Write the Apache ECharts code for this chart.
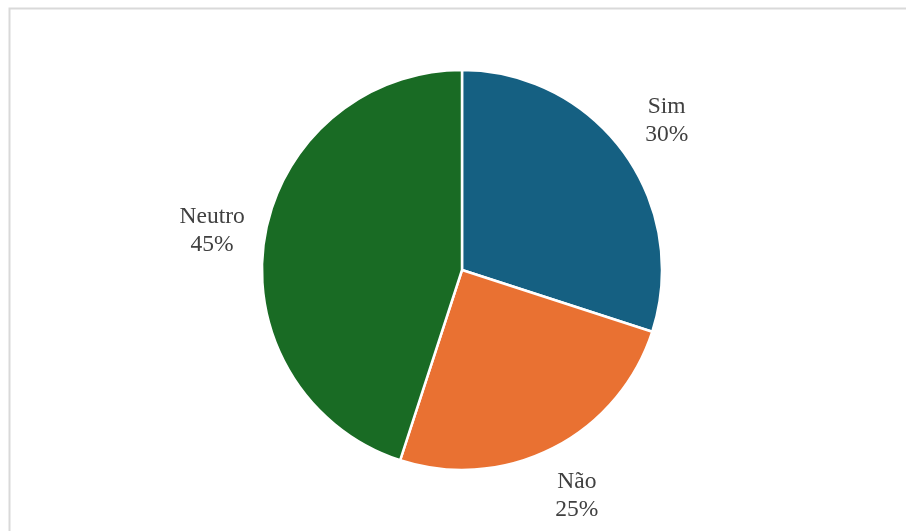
<!DOCTYPE html>
<html>
<head>
<meta charset="utf-8">
<script src="https://cdn.jsdelivr.net/npm/echarts@6/dist/echarts.min.js"></script>
<style>
  html, body { margin: 0; padding: 0; background: #ffffff; }
  #chart { width: 906px; height: 531px; }
</style>
</head>
<body>
<div id="chart"></div>
<script>
// Survey answers and their shares
const categories = ['Sim', 'Não', 'Neutro'];
const values = [30, 25, 45];
const colors = ['#156082', '#E97132', '#196B24'];

const sliceData = categories.map((name, i) => ({
  name: name,
  value: values[i],
  itemStyle: { color: colors[i] }
}));

const labelFont = {
  fontFamily: '"Liberation Serif", "Times New Roman", serif',
  fontSize: 23.5,
  lineHeight: 28,
  color: '#404040'
};

const chart = echarts.init(document.getElementById('chart'), null, { renderer: 'canvas' });
chart.setOption({
  backgroundColor: '#ffffff',
  animation: false,
  graphic: [{
    type: 'rect',
    left: 7,
    top: 6,
    shape: { width: 1000, height: 1000 },
    style: { fill: 'none', stroke: '#d9d9d9', lineWidth: 2 },
    silent: true
  }],
  series: [
    {
      // the pie itself
      type: 'pie',
      center: [462, 270],
      radius: [0, 200],
      startAngle: 90,
      clockwise: true,
      percentPrecision: 0,
      itemStyle: { borderColor: '#ffffff', borderWidth: 2.5 },
      label: { show: false },
      labelLine: { show: false },
      emphasis: { disabled: true },
      data: sliceData
    },
    {
      // invisible outer ring that carries the centred category labels
      type: 'pie',
      center: [462, 270],
      radius: [236, 264],
      startAngle: 90,
      clockwise: true,
      silent: true,
      percentPrecision: 0,
      itemStyle: { color: 'rgba(0,0,0,0)', borderWidth: 0 },
      label: Object.assign({
        show: true,
        position: 'inside',
        align: 'center',
        formatter: '{b}\n{d}%'
      }, labelFont),
      labelLine: { show: false },
      emphasis: { disabled: true },
      data: categories.map((name, i) => ({ name: name, value: values[i] }))
    }
  ]
});
</script>
</body>
</html>
